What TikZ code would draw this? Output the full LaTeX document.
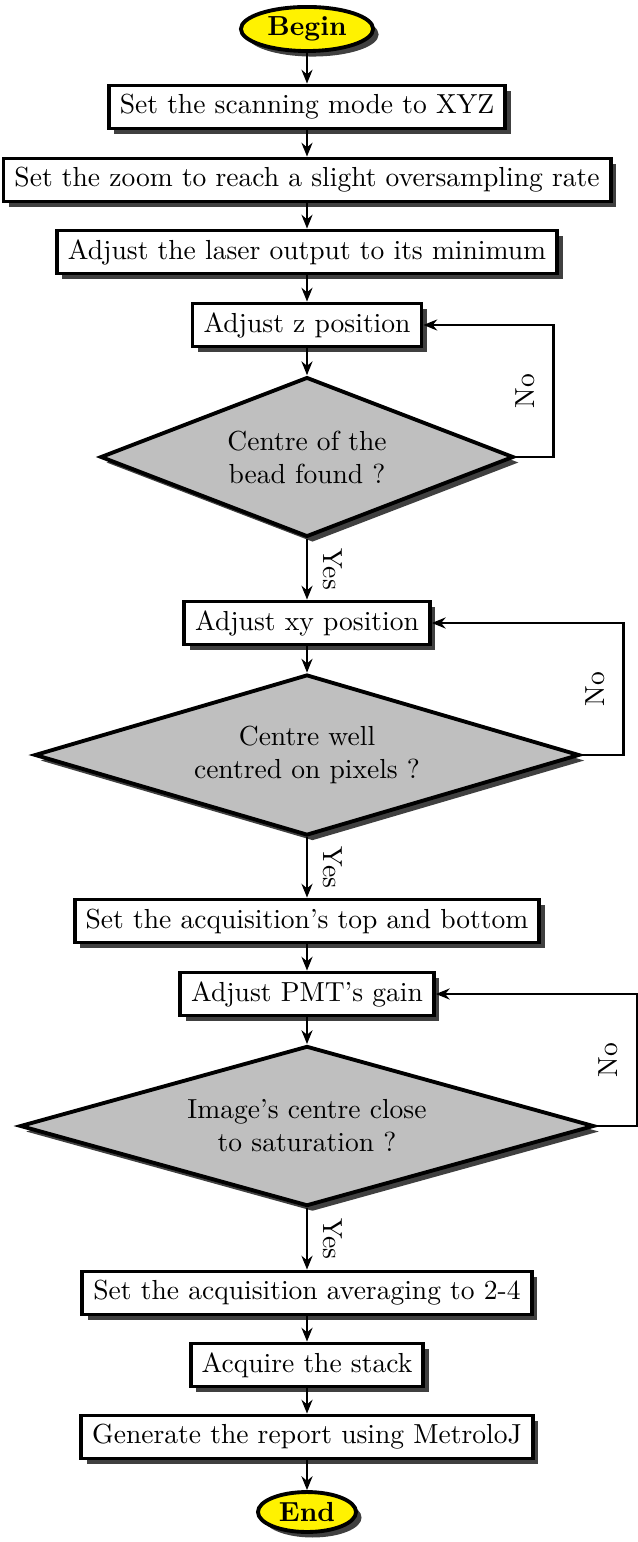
\documentclass[tikz,border=0pt]{standalone}
\usetikzlibrary{shapes.geometric,shadows,arrows.meta}
\begin{document}
\begin{tikzpicture}[x=0.363pt,y=-0.363pt,
 shd/.style={drop shadow={shadow xshift=2pt,shadow yshift=-2pt,fill=black!75,opacity=1}},
 box/.style={draw,line width=1.4pt,fill=white,shd,minimum height=15.6pt,inner xsep=4pt,inner ysep=0pt},
 term/.style={ellipse,draw,line width=1.4pt,fill=yellow,shd,font=\bfseries,inner sep=0pt},
 dec/.style={diamond,draw,line width=1.4pt,fill=black!25,shd,align=center,inner sep=0pt},
 arr/.style={-{Stealth[length=5pt,width=4pt]},line width=1pt},
 nolab/.style={rotate=90,above=3pt},
 yeslab/.style={rotate=-90,above=2pt}]
\useasboundingbox (0,0) rectangle (637,1542);
\node[term, minimum width=48pt, minimum height=16pt] (begin) at (307,29) {Begin};
\node[box] (s1) at (307,107) {Set the scanning mode to XYZ};
\node[box] (s2) at (307,180) {Set the zoom to reach a slight oversampling rate};
\node[box] (s3) at (307,252) {Adjust the laser output to its minimum};
\node[box] (s4) at (307,325) {Adjust z position};
\node[dec, shape aspect=2.58, minimum width=150pt, minimum height=58pt] (d1) at (307,457) {Centre of the\\bead found ?};
\node[box] (s5) at (307,623) {Adjust xy position};
\node[dec, shape aspect=3.39, minimum width=197.8pt, minimum height=58.4pt] (d2) at (307,755) {Centre well\\centred on pixels ?};
\node[box] (s6) at (307,921) {Set the acquisition's top and bottom};
\node[box] (s7) at (307,994) {Adjust PMT's gain};
\node[dec, shape aspect=3.59, minimum width=208.4pt, minimum height=58.1pt] (d3) at (307,1126) {Image's centre close\\to saturation ?};
\node[box] (s8) at (307,1293) {Set the acquisition averaging to 2-4};
\node[box] (s9) at (307,1365) {Acquire the stack};
\node[box] (s10) at (307,1437) {Generate the report using MetroloJ};
\node[term, minimum width=35.6pt, minimum height=14.5pt] (end) at (307,1512) {End};

\draw[arr] (begin) -- (s1);
\draw[arr] (s1) -- (s2);
\draw[arr] (s2) -- (s3);
\draw[arr] (s3) -- (s4);
\draw[arr] (s4) -- (d1);
\draw[arr] (d1) -- node[yeslab]{Yes} (s5);
\draw[arr] (d1.east) -- ++(38,0) |- node[nolab,pos=0.25]{No} (s4.east);
\draw[arr] (s5) -- (d2);
\draw[arr] (d2) -- node[yeslab]{Yes} (s6);
\draw[arr] (d2.east) -- ++(42,0) |- node[nolab,pos=0.25]{No} (s5.east);
\draw[arr] (s6) -- (s7);
\draw[arr] (s7) -- (d3);
\draw[arr] (d3) -- node[yeslab]{Yes} (s8);
\draw[arr] (d3.east) -- ++(41,0) |- node[nolab,pos=0.25]{No} (s7.east);
\draw[arr] (s8) -- (s9);
\draw[arr] (s9) -- (s10);
\draw[arr] (s10) -- (end);
\end{tikzpicture}
\end{document}
